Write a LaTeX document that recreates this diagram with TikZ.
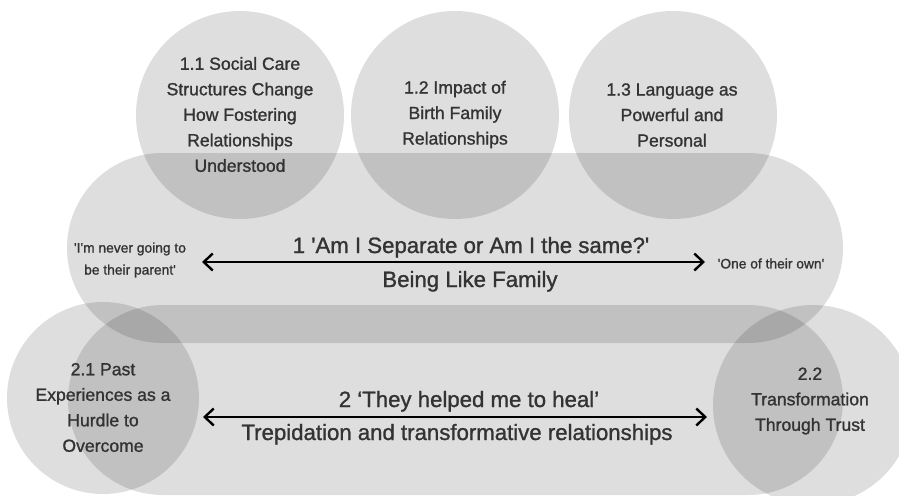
\documentclass[tikz,border=0pt]{standalone}
\usepackage{fontspec}
\setmainfont{Liberation Sans}[FakeBold=1.2]
\usetikzlibrary{arrows.meta}
\definecolor{inkgray}{HTML}{333333}
\newcommand{\sq}{\textquotesingle}
\tikzset{
    blob/.style={fill=black, fill opacity=0.13},
    subtheme/.style={font=\fontsize{17.6}{25.5}\selectfont, text=inkgray, align=center, inner sep=0pt},
    theme/.style={font=\fontsize{22.2}{26}\selectfont, text=inkgray, inner sep=0pt, anchor=base},
    quotelabel/.style={font=\fontsize{13.8}{22}\selectfont, text=inkgray, align=center, inner sep=0pt},
    pull/.style={line width=2.4pt, black, {Straight Barb[length=9pt,width=17pt]}-{Straight Barb[length=9pt,width=17pt]}}
}
\begin{document}
\begin{tikzpicture}[x=1pt,y=-1pt]
    % Definitions
    \def \circleradius{104pt}
    \def \bandradius{94.9pt}
    \useasboundingbox (0,0) rectangle (899,495);
    \clip (0,0) rectangle (899,495);
    %%%
    %%% Theme 1
    %%%
    % Band
    \fill[blob, rounded corners=\bandradius] (67,153) rectangle (843,343);
    % Subtheme circles
    \foreach \cx in {240, 455, 673}
    {
        \fill[blob] (\cx,115) circle (\circleradius);
    }
    %%%
    %%% Theme 2
    %%%
    % Band
    \fill[blob, rounded corners=\bandradius] (68,305) rectangle (843,495);
    % Subtheme circles
    \fill[blob] (103,398) circle (96pt);
    \fill[blob] (813,405) circle (100pt);
    % Subtheme labels
    \node[subtheme] (sub11) at (240,114.5) {1.1 Social Care\\Structures Change\\How Fostering\\Relationships\\Understood};
    \node[subtheme] (sub12) at (455,114.5) {1.2 Impact of\\Birth Family\\Relationships};
    \node[subtheme] (sub13) at (672,115) {1.3 Language as\\Powerful and\\Personal};
    \node[subtheme] (sub21) at (103,407.5) {2.1 Past\\Experiences as a\\Hurdle to\\Overcome};
    \node[subtheme] (sub22) at (810,401) {2.2\\Transformation\\Through Trust};
    % Theme labels
    \node[theme] (title1) at (471,253) {1 \sq Am I Separate or Am I the same?\sq};
    \node[theme] (name1) at (470,287) {Being Like Family};
    \node[theme] (title2) at (469,407) {2 ‘They helped me to heal’};
    \node[theme] (name2) at (457,440) {Trepidation and transformative relationships};
    % Ends of the pull
    \node[quotelabel] (apart) at (130,260) {\sq I\sq m never going to\\be their parent\sq};
    \node[quotelabel] (own) at (771,263.5) {\sq One of their own\sq};
    \coordinate (apart end) at (202,262);
    \coordinate (own end) at (705,262);
    \coordinate (hurdle end) at (203,417);
    \coordinate (trust end) at (707,417);
    \draw[pull] (apart end) -- (own end);
    \draw[pull] (hurdle end) -- (trust end);
\end{tikzpicture}
\end{document}
